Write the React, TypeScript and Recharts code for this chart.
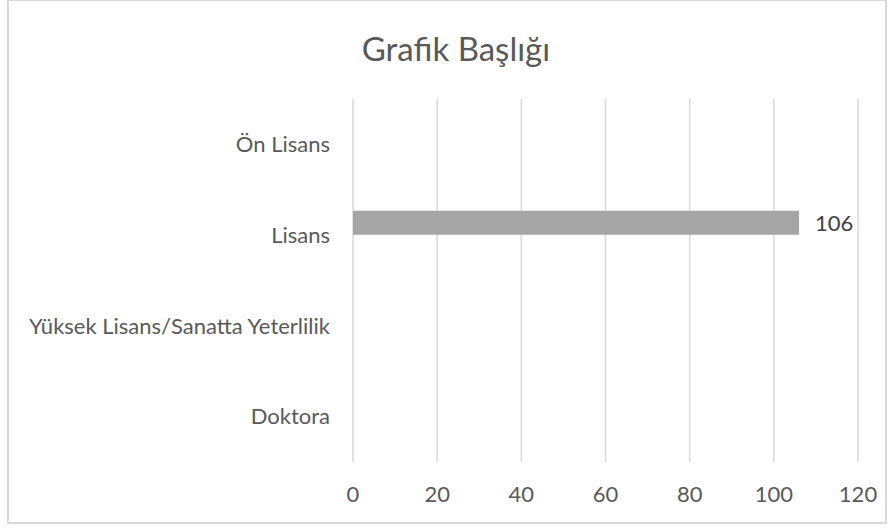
import { Bar, BarChart, CartesianGrid, LabelList, XAxis, YAxis } from "recharts";

const FONT = "Lato, 'Noto Sans', sans-serif";
const TEXT = "#595959";
const GRID = "#D9D9D9";
const BAR = "#A5A5A5";

const categories = ["Ön Lisans", "Lisans", "Yüksek Lisans/Sanatta Yeterlilik", "Doktora"];
const seriesA: (number | null)[] = [null, 106, null, null];
const seriesB: (number | null)[] = [null, null, null, null];
const xTicks = [0, 20, 40, 60, 80, 100, 120];

const data = categories.map((name, i) => ({ name, a: seriesA[i], b: seriesB[i] }));

export default function App() {
  return (
    <div style={{ position: "absolute", left: 0, top: 0, width: 894, height: 529, background: "#fff" }}>
      <div
        style={{
          position: "absolute",
          left: 7,
          top: -1,
          width: 880,
          height: 525,
          border: "2px solid #D9D9D9",
          boxSizing: "border-box",
        }}
      />
      <div
        style={{
          position: "absolute",
          left: 0,
          width: 912,
          top: 28,
          textAlign: "center",
          fontFamily: FONT,
          fontSize: 33,
          color: TEXT,
          lineHeight: "40px",
        }}
      >
        Grafik Başlığı
      </div>
      <div style={{ position: "absolute", left: 0, top: 0 }}>
        <BarChart
          width={894}
          height={529}
          data={data}
          layout="vertical"
          barGap={0}
          margin={{ top: 99, right: 36, bottom: 37, left: 0 }}
        >
          <CartesianGrid horizontal={false} stroke={GRID} strokeWidth={1.5} />
          <XAxis
            type="number"
            domain={[0, 120]}
            ticks={xTicks}
            height={30}
            axisLine={false}
            tickLine={false}
            tickSize={0}
            tickMargin={24}
            tick={{ fontSize: 22, fill: TEXT, fontFamily: FONT }}
          />
          <YAxis
            type="category"
            dataKey="name"
            width={353}
            axisLine={false}
            tickLine={false}
            tickSize={0}
            tickMargin={23}
            interval={0}
            tick={{ fontSize: 22, fill: TEXT, fontFamily: FONT }}
          />
          <Bar dataKey="a" fill={BAR} barSize={24} isAnimationActive={false}>
            <LabelList
              dataKey="a"
              position="right"
              offset={16}
              style={{ fontSize: 22, fill: "#404040", fontFamily: FONT }}
            />
          </Bar>
          <Bar dataKey="b" fill="#5B9BD5" barSize={24} isAnimationActive={false} />
        </BarChart>
      </div>
    </div>
  );
}
